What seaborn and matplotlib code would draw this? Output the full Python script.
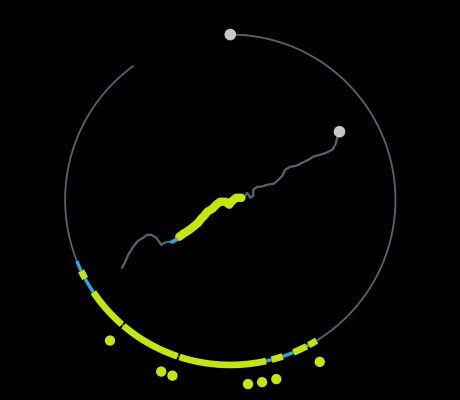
import numpy as np
import pandas as pd
import seaborn as sns
import matplotlib.pyplot as plt

# colours
BG = "#000000"
GREY = "#55656f"
GREEN = "#c4e60c"
BLUE = "#29abe2"
DOT = "#c8c8c8"

# time ring: clockwise from the top, in degrees
ring_span = 324.0
seg_start = [148.5, 151.7, 152.5, 157.5, 161.5, 165.5, 167.5, 198.6, 221.0, 236.0, 241.5, 244.5]
seg_end = [151.7, 152.5, 157.5, 161.5, 165.5, 167.5, 197.9, 220.3, 236.0, 241.5, 244.5, 248.2]
seg_kind = ["green", "blue", "green", "blue", "green", "blue", "green", "green", "green", "blue", "green", "blue"]

# points pushed out of the ring
out_deg = [151.1, 165.6, 170.1, 174.5, 198.2, 201.9, 220.5]
out_r = 1.121

# inner path (ring radius = 1, centre = 0,0)
path_x = [0.661, 0.648, 0.636, 0.618, 0.582, 0.545, 0.503, 0.473, 0.436, 0.400,
          0.364, 0.333, 0.315, 0.303, 0.279, 0.261, 0.224, 0.188, 0.164, 0.139,
          0.139, 0.121, 0.103, 0.091, 0.079, 0.071,
          0.067, 0.036, 0.006, -0.006, -0.030, -0.061, -0.085, -0.109, -0.139, -0.158,
          -0.176, -0.194, -0.224, -0.255, -0.285, -0.309,
          -0.327, -0.352,
          -0.382, -0.400, -0.418, -0.430, -0.448, -0.479, -0.503, -0.527, -0.558, -0.588,
          -0.618, -0.636, -0.655]
path_y = [0.412, 0.376, 0.333, 0.303, 0.285, 0.273, 0.261, 0.242, 0.224, 0.206,
          0.200, 0.182, 0.145, 0.133, 0.109, 0.097, 0.091, 0.079, 0.079, 0.061,
          0.024, 0.012, 0.042, 0.024, 0.018, -0.006,
          0.012, 0.012, -0.012, -0.030, -0.012, -0.012, -0.030, -0.055, -0.073, -0.097,
          -0.115, -0.139, -0.164, -0.188, -0.206, -0.224,
          -0.242, -0.255,
          -0.255, -0.261, -0.273, -0.255, -0.230, -0.212, -0.212, -0.230, -0.248, -0.285,
          -0.333, -0.376, -0.412]
path_kind = ["grey"] * 26 + ["green"] * 16 + ["blue"] * 2 + ["grey"] * 13

sns.set_theme(style="dark", rc={"axes.facecolor": BG, "figure.facecolor": BG})

fig = plt.figure(figsize=(4.605, 4.005), dpi=100)
pos = [0.0696, 0.005, 0.8609, 0.99]

pax = fig.add_axes(pos, projection="polar")
pax.set_theta_zero_location("N")
pax.set_theta_direction(-1)

# base ring
ring = pd.DataFrame({"theta": np.radians(np.linspace(0, ring_span, 400)), "r": 1.0})
sns.lineplot(data=ring, x="theta", y="r", sort=False, estimator=None,
             color=GREY, lw=1.3, ax=pax)

# highlighted stretches of the ring
styles = {"green": (GREEN, 4.8), "blue": (BLUE, 2.4)}
for a, b, k in zip(seg_start, seg_end, seg_kind):
    seg = pd.DataFrame({"theta": np.radians(np.linspace(a, b, 20)), "r": 1.0})
    c, w = styles[k]
    sns.lineplot(data=seg, x="theta", y="r", sort=False, estimator=None,
                 color=c, lw=w, solid_capstyle="butt", ax=pax)

outs = pd.DataFrame({"theta": np.radians(out_deg), "r": out_r})
sns.scatterplot(data=outs, x="theta", y="r", color=GREEN, s=55,
                edgecolor="none", ax=pax)
pax.scatter([0], [1.0], color=DOT, s=70, zorder=5, edgecolors="none")
pax.set_ylim(0, 1.2)
pax.set_axis_off()

# inner path
cax = fig.add_axes(pos)
cax.patch.set_alpha(0)

path = pd.DataFrame({"x": path_x, "y": path_y, "kind": path_kind})
path["run"] = (path["kind"] != path["kind"].shift()).cumsum()
sns.lineplot(data=path, x="x", y="y", sort=False, estimator=None,
             color=GREY, lw=1.6, ax=cax)
for _, g in path.groupby("run"):
    k = g["kind"].iloc[0]
    if k == "grey":
        continue
    c, w = (GREEN, 6.0) if k == "green" else (BLUE, 2.8)
    sns.lineplot(data=g, x="x", y="y", sort=False, estimator=None, color=c, lw=w,
                 solid_capstyle="round", solid_joinstyle="round", ax=cax)
cax.scatter(path_x[:1], path_y[:1], color=DOT, s=70, zorder=5, edgecolors="none")
cax.set_xlim(-1.2, 1.2)
cax.set_ylim(-1.2, 1.2)
cax.set_axis_off()

fig.savefig("out.png", dpi=100, facecolor=BG)
